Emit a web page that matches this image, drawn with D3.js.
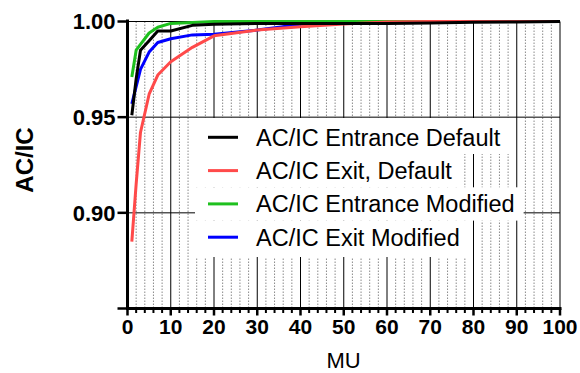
<!DOCTYPE html>
<html>
<head>
<meta charset="utf-8">
<script src="https://cdn.jsdelivr.net/npm/d3@7"></script>
<style>
  body { margin: 0; background: #fff; }
  svg { font-family: "Liberation Sans", Arial, sans-serif; }
</style>
</head>
<body>
<svg id="chart" width="580" height="373"></svg>
<script>
// MU values sampled
const mu = [1, 2, 3, 5, 7, 10, 15, 20, 30, 40, 50, 60, 70, 80, 90, 100];

const entranceDefault  = [0.951, 0.970, 0.985, 0.990, 0.995, 0.995, 0.998, 0.9985, 0.999, 0.999, 0.999, 0.999, 0.9992, 0.9996, 0.9998, 1.000];
const exitDefault      = [0.885, 0.915, 0.942, 0.962, 0.972, 0.979, 0.9865, 0.9925, 0.9955, 0.9973, 0.9987, 0.9997, 1.000, 1.000, 1.000, 1.000];
const entranceModified = [0.971, 0.985, 0.988, 0.994, 0.997, 0.999, 0.9995, 1.000, 1.000, 1.000, 1.000, 1.000, 1.000, 1.000, 1.000, 1.000];
const exitModified     = [0.957, 0.966, 0.975, 0.984, 0.989, 0.991, 0.993, 0.9933, 0.9955, 0.9985, 0.9995, 1.000, 1.000, 1.000, 1.000, 1.000];

const seriesNames  = ["AC/IC Entrance Default", "AC/IC Exit, Default", "AC/IC Entrance Modified", "AC/IC Exit Modified"];
const seriesColors = ["#000000", "#ff4a4a", "#1ec01e", "#0000ff"];
const seriesValues = [entranceDefault, exitDefault, entranceModified, exitModified];

const xTicks = [0, 10, 20, 30, 40, 50, 60, 70, 80, 90, 100];
const yTicks = [0.90, 0.95, 1.00];

const svg = d3.select("#chart");

const x = d3.scaleLinear().domain([0, 100]).range([127.5, 560]);
const y = d3.scaleLinear().domain([0.85, 1.0]).range([308.5, 21.5]);

const grid = svg.append("g");

// minor dotted verticals every 2
grid.selectAll(".minor")
  .data(d3.range(2, 100, 2).filter(d => d % 10 !== 0))
  .enter().append("line")
  .attr("x1", d => x(d)).attr("x2", d => x(d))
  .attr("y1", y(1.0)).attr("y2", y(0.85))
  .attr("stroke", "#8a8a8a")
  .attr("stroke-width", 1)
  .attr("stroke-dasharray", "1.5,1.5");

// major verticals
grid.selectAll(".major")
  .data(xTicks.filter(d => d > 0))
  .enter().append("line")
  .attr("x1", d => x(d)).attr("x2", d => x(d))
  .attr("y1", y(1.0)).attr("y2", y(0.85))
  .attr("stroke", "#000")
  .attr("stroke-width", 1);

// horizontals
grid.selectAll(".hgrid")
  .data(yTicks)
  .enter().append("line")
  .attr("x1", x(0)).attr("x2", x(100))
  .attr("y1", d => y(d)).attr("y2", d => y(d))
  .attr("stroke", "#000")
  .attr("stroke-width", 1);

// data lines (drawn last series first so black ends on top)
const line = d3.line()
  .x((d, i) => x(mu[i]))
  .y(d => y(d));

const order = [3, 2, 1, 0];
svg.append("g").selectAll("path")
  .data(order)
  .enter().append("path")
  .attr("d", k => line(seriesValues[k]))
  .attr("fill", "none")
  .attr("stroke", k => seriesColors[k])
  .attr("stroke-width", 3)
  .attr("stroke-linejoin", "round");

// legend, one white box per entry
const legendLeft = 195;
const rowY = [137.3, 170.6, 203.9, 237.2];
const legend = svg.append("g");
seriesNames.forEach((name, i) => {
  const g = legend.append("g");
  const bg = g.append("rect").attr("fill", "#fff");
  g.append("line")
    .attr("x1", 208).attr("x2", 238)
    .attr("y1", rowY[i]).attr("y2", rowY[i])
    .attr("stroke", seriesColors[i])
    .attr("stroke-width", 3);
  const t = g.append("text")
    .attr("x", 256)
    .attr("y", rowY[i] + 8.5)
    .attr("font-size", "23.5px")
    .attr("fill", "#000")
    .text(name);
  const w = t.node().getComputedTextLength();
  const top = i === 0 ? 118 : rowY[i] - 16.6;
  const bottom = i === seriesNames.length - 1 ? 257 : rowY[i] + 16.7;
  bg.attr("x", legendLeft).attr("y", top)
    .attr("width", 256 + w + 9 - legendLeft)
    .attr("height", bottom - top);
});

// x axis
const xAxis = svg.append("g").attr("transform", "translate(0," + 308.5 + ")");
xAxis.append("line")
  .attr("x1", x(0) - 1.5).attr("x2", x(100) + 1.5)
  .attr("stroke", "#000").attr("stroke-width", 3);
xAxis.selectAll(".xminor")
  .data(d3.range(2, 100, 2).filter(d => d % 10 !== 0))
  .enter().append("line")
  .attr("x1", d => x(d)).attr("x2", d => x(d))
  .attr("y1", 0).attr("y2", 4.5)
  .attr("stroke", "#000").attr("stroke-width", 2);
xAxis.selectAll(".xmajor")
  .data(xTicks)
  .enter().append("line")
  .attr("x1", d => x(d)).attr("x2", d => x(d))
  .attr("y1", 0).attr("y2", 7)
  .attr("stroke", "#000").attr("stroke-width", 2.5);
xAxis.selectAll("text")
  .data(xTicks)
  .enter().append("text")
  .attr("x", d => x(d))
  .attr("y", 25)
  .attr("text-anchor", "middle")
  .attr("font-size", "21px")
  .attr("font-weight", "bold")
  .text(d => d);

// y axis
const yAxis = svg.append("g").attr("transform", "translate(" + 127.5 + ",0)");
yAxis.append("line")
  .attr("y1", y(1.0) - 2).attr("y2", y(0.85) + 1.5)
  .attr("stroke", "#000").attr("stroke-width", 3);
yAxis.selectAll(".ytick")
  .data([0.85].concat(yTicks))
  .enter().append("line")
  .attr("x1", -10).attr("x2", 0)
  .attr("y1", d => y(d)).attr("y2", d => y(d))
  .attr("stroke", "#000").attr("stroke-width", 2.5);
yAxis.selectAll("text")
  .data(yTicks)
  .enter().append("text")
  .attr("x", -12)
  .attr("y", d => y(d))
  .attr("dy", "0.36em")
  .attr("text-anchor", "end")
  .attr("font-size", "22px")
  .attr("font-weight", "bold")
  .text(d => d3.format(".2f")(d));

// axis titles
svg.append("text")
  .attr("x", 343.5).attr("y", 368)
  .attr("text-anchor", "middle")
  .attr("font-size", "22px")
  .text("MU");

svg.append("text")
  .attr("transform", "translate(33,160) rotate(-90)")
  .attr("text-anchor", "middle")
  .attr("font-size", "24px")
  .attr("font-weight", "bold")
  .text("AC/IC");
</script>
</body>
</html>
